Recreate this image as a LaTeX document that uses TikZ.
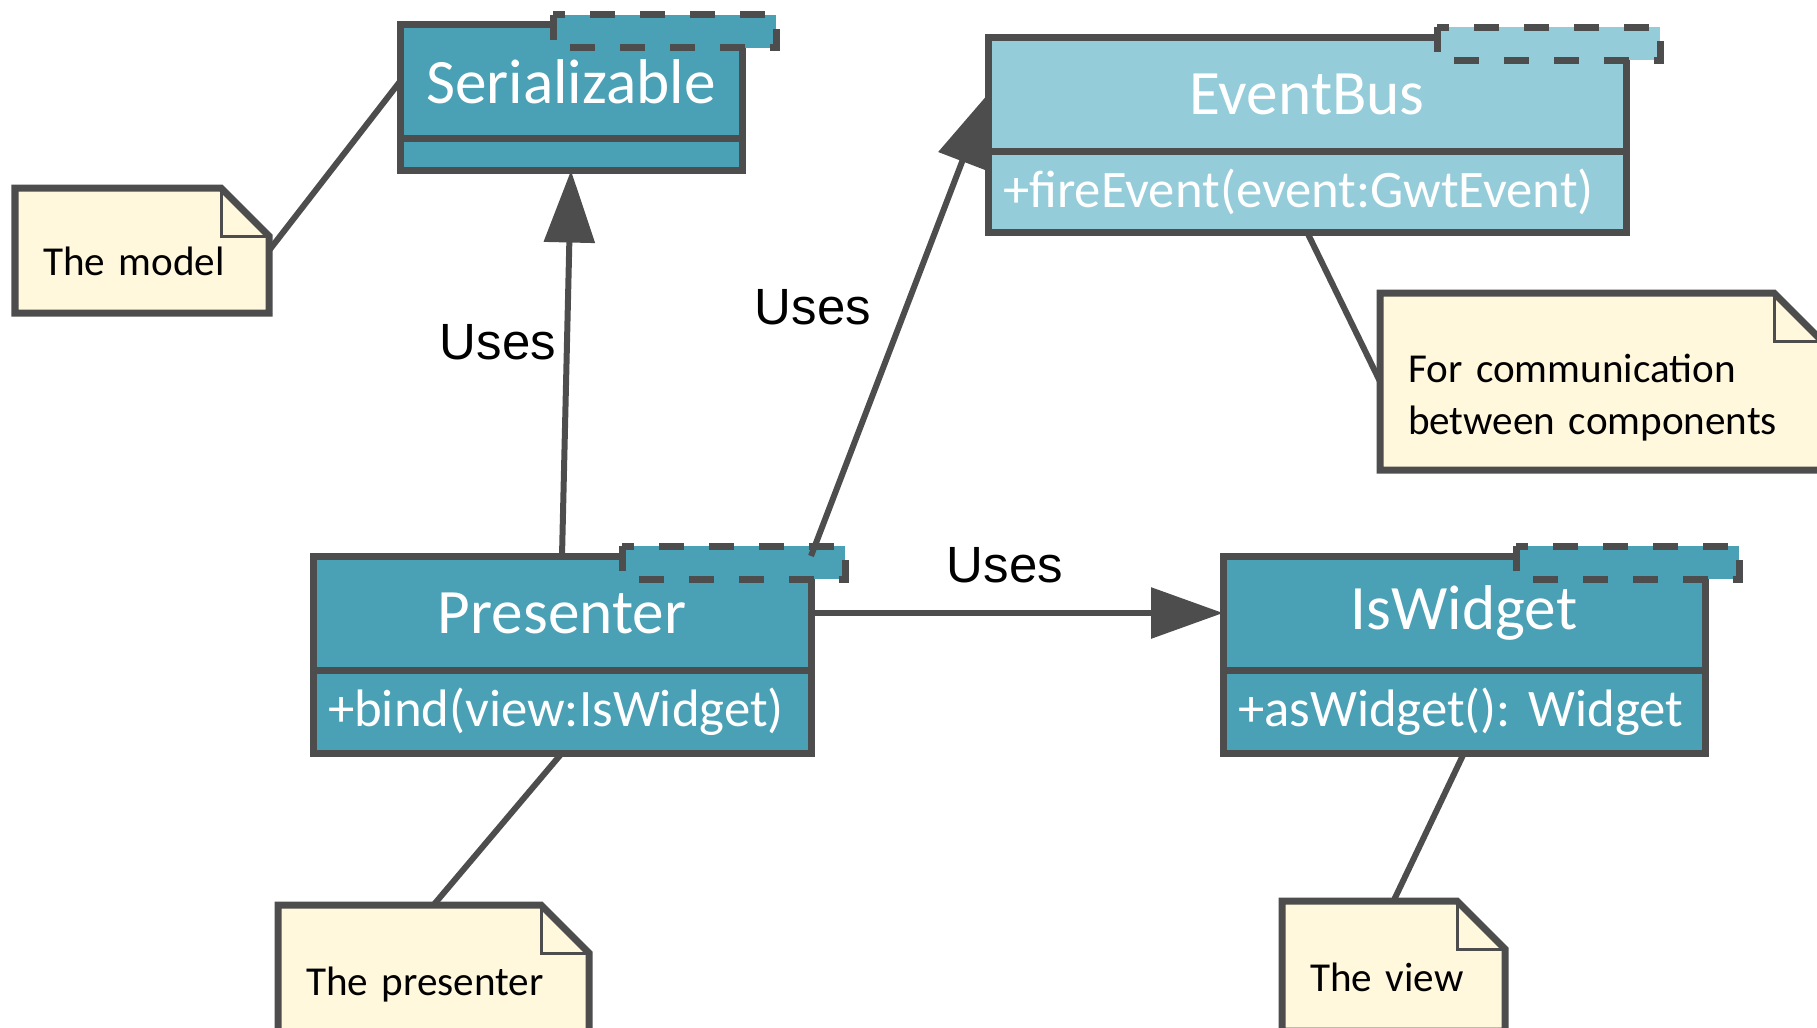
\documentclass[tikz,border=0pt]{standalone}
\usepackage{fontspec}
\setmainfont{Carlito}
\newfontfamily\arialfont{Liberation Sans}
\usetikzlibrary{positioning,arrows.meta,backgrounds}

\definecolor{boxteal}{RGB}{74,160,181}
\definecolor{boxlight}{RGB}{148,204,217}
\definecolor{notefill}{RGB}{255,248,221}
\definecolor{edgegrey}{RGB}{77,77,77}

% dashed tab at the top right of a class box
\newcommand\classtab[2]{%
    \fill[#2] ([xshift=-1.89cm,yshift=0.1cm]#1.north east) rectangle ([xshift=0.34cm,yshift=-0.23cm]#1.north east);
    \draw[edgegrey,dash pattern=on 0.25cm off 0.25cm] ([xshift=-1.89cm,yshift=0.1cm]#1.north east) rectangle ([xshift=0.34cm,yshift=-0.23cm]#1.north east);
}

% note outline with folded corner
\newcommand\notepaper[1]{%
    \filldraw[edgegrey,fill=notefill,line width=0.07cm] (#1.south west) -- (#1.north west) -- ([xshift=-0.48cm]#1.north east) -- ([yshift=-0.48cm]#1.north east) -- (#1.south east) -- cycle;
    \draw[edgegrey,line width=0.03cm] ([xshift=-0.48cm]#1.north east) |- ([yshift=-0.48cm]#1.north east);
}

\begin{document}
\begin{tikzpicture}[line width=0.07cm,
    classname/.style = {draw=edgegrey, fill=boxteal, text=white, outer sep=0pt,
        minimum height=1.14cm, font=\fontsize{18}{22}\selectfont},
    classbody/.style = {draw=edgegrey, fill=boxteal, text=white, outer sep=0pt,
        inner xsep=0.15cm, inner ysep=0.1cm, align=left, font=\fontsize{15}{18}\selectfont},
    notetext/.style = {outer sep=0pt, inner xsep=0.28cm, align=left,
        text height=0.6cm, text depth=0.1cm, font=\fontsize{11.7}{14.8}\selectfont},
    useslabel/.style = {font=\arialfont\fontsize{14.5}{17}\selectfont},
    assoc/.style = {edgegrey, line width=0.06cm},
    uses/.style = {assoc, -{Triangle[length=0.72cm,width=0.5cm]}}]

\useasboundingbox (0,0) rectangle (18.17,-10.27);

% Serializable
\node[classname,minimum width=3.42cm] (ser) at (5.71,-0.815) {Serializable};
\node[classbody,text width=3.12cm,minimum height=0.32cm,below=0pt of ser] (sermeth) {};
\classtab{ser}{boxteal}

% EventBus
\node[classname,fill=boxlight,minimum width=6.38cm] (bus) at (13.07,-0.94) {EventBus};
\node[classbody,fill=boxlight,text width=6.08cm,minimum height=0.81cm,below=0pt of bus] (busmeth) {+fireEvent(event:GwtEvent)};
\classtab{bus}{boxlight}

% Presenter
\node[classname,minimum width=4.98cm] (pres) at (5.62,-6.13) {Presenter};
\node[classbody,text width=4.68cm,minimum height=0.83cm,below=0pt of pres] (presmeth) {+bind(view:IsWidget)};
\classtab{pres}{boxteal}

% IsWidget
\node[classname,minimum width=4.82cm] (widget) at (14.64,-6.13) {IsWidget};
\node[classbody,text width=4.52cm,minimum height=0.83cm,below=0pt of widget] (widgetmeth) {+asWidget():~Widget};
\classtab{widget}{boxteal}

% Notes
\node[notetext,minimum height=1.25cm,text width=1.98cm] (modelnote) at (1.42,-2.505) {The model};
\node[notetext,minimum height=1.77cm,text width=3.86cm,text height=0.64cm,text depth=0.62cm] (busnote) at (16.01,-3.815) {For communication\\between components};
\node[notetext,minimum height=1.3cm,text width=2.55cm] (presnote) at (4.335,-9.7) {The presenter};
\node[notetext,minimum height=1.3cm,text width=1.67cm] (viewnote) at (13.935,-9.66) {The view};

\begin{scope}[on background layer]
    \notepaper{modelnote}
    \notepaper{busnote}
    \notepaper{presnote}
    \notepaper{viewnote}
\end{scope}

% Links
\draw[assoc] (modelnote.east) -- (ser.west);
\draw[assoc] (busmeth.south) -- (busnote.west);
\draw[assoc] (presmeth.south) -- (presnote.north);
\draw[assoc] (widgetmeth.south) -- (viewnote.north);

\draw[uses] (pres.north) -- (sermeth.south);
\draw[uses] (pres.north east) -- (bus.west);
\draw[uses] (pres.east) -- (widget.west);

\node[useslabel] (uses1) at (4.98,-3.42) {Uses};
\node[useslabel] (uses2) at (8.13,-3.07) {Uses};
\node[useslabel] (uses3) at (10.05,-5.65) {Uses};
\end{tikzpicture}
\end{document}
